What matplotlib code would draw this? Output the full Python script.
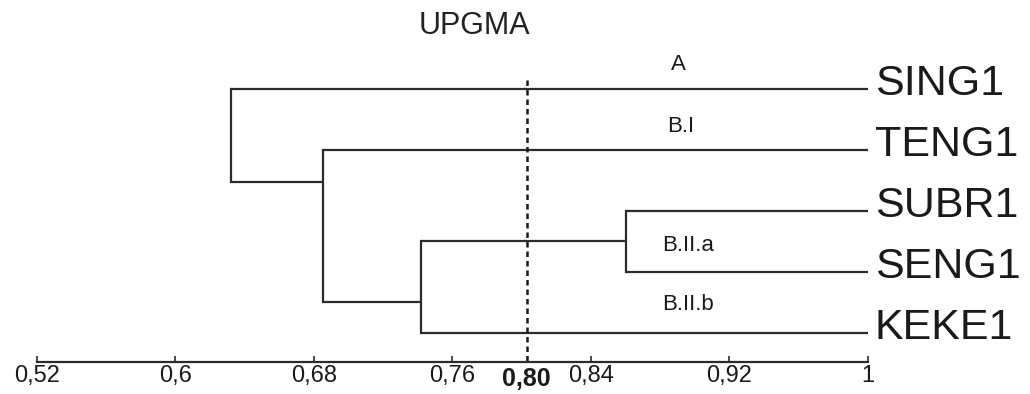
import matplotlib.pyplot as plt

plt.rcParams['font.family'] = ['Liberation Sans', 'DejaVu Sans']

# leaves, top to bottom
leaves = ['SING1', 'TENG1', 'SUBR1', 'SENG1', 'KEKE1']
leaf_rows = [0, 1, 2, 3, 4]
leaf_height = 1.0

# merges: children index leaves (0-4) or earlier merges (5+)
merge_left = [2, 5, 1, 0]
merge_right = [3, 4, 6, 7]
merge_height = [0.860, 0.742, 0.6856, 0.632]
merge_row = [2.5, 3.5, 1.53, 0.75]

cutoff = 0.803
cutoff_label = '0,80'
tick_values = [0.52, 0.6, 0.68, 0.76, 0.84, 0.92, 1.0]
tick_labels = ['0,52', '0,6', '0,68', '0,76', '0,84', '0,92', '1']

group_labels = ['A', 'B.I', 'B.II.a', 'B.II.b']
group_x = [0.8905, 0.8917, 0.8963, 0.8963]
group_row = [-0.41, 0.61, 2.57, 3.545]

line_color = '#2b2b2b'
lw = 1.6

fig = plt.figure(figsize=(10.3, 3.94), dpi=100)
ax = fig.add_axes([0.0356, 0.08, 0.8071, 0.92])
ax.set_xlim(0.52, 1.0)
ax.set_ylim(4.49, -1.468)

heights = [leaf_height] * len(leaves) + merge_height
rows = list(leaf_rows) + merge_row

for i in range(len(merge_height)):
    h = merge_height[i]
    l, r = merge_left[i], merge_right[i]
    # vertical connector
    ax.plot([h, h], [rows[l], rows[r]], color=line_color, lw=lw, solid_capstyle='projecting')
    # horizontal branches to children
    for c in (l, r):
        ax.plot([h, heights[c]], [rows[c], rows[c]], color=line_color, lw=lw,
                solid_capstyle='butt')

# leaf labels
for name, row in zip(leaves, leaf_rows):
    ax.annotate(name, (1.0, row), xytext=(7, -6), textcoords='offset pixels',
                ha='left', va='baseline', fontsize=31, color='#1a1a1a',
                annotation_clip=False)

# group labels
for txt, x, row in zip(group_labels, group_x, group_row):
    ax.text(x, row, txt, ha='center', va='center', fontsize=16, color='#1a1a1a')

# cutoff line
ax.plot([cutoff, cutoff], [-0.15, 4.49], color='#1a1a1a', lw=1.8,
        linestyle=(0, (2.2, 1.6)))

ax.text(0.7726, -1.04, 'UPGMA', ha='center', va='center', fontsize=22,
        color='#222222')

# axis
for side in ['top', 'left', 'right']:
    ax.spines[side].set_visible(False)
ax.spines['bottom'].set_color(line_color)
ax.spines['bottom'].set_linewidth(lw)
ax.set_yticks([])
ax.set_xticks(tick_values)
ax.set_xticklabels(tick_labels, fontsize=17, color='#1a1a1a')
ax.tick_params(axis='x', direction='in', length=4, width=1.2, color=line_color, pad=2)

ax.text(cutoff, 4.56, cutoff_label, ha='center', va='top', fontsize=18,
        fontweight='bold', color='#1a1a1a', clip_on=False)
ax.plot([cutoff, cutoff], [4.49, 4.43], color=line_color, lw=1.2, clip_on=False)

fig.savefig('out.png', dpi=100)
